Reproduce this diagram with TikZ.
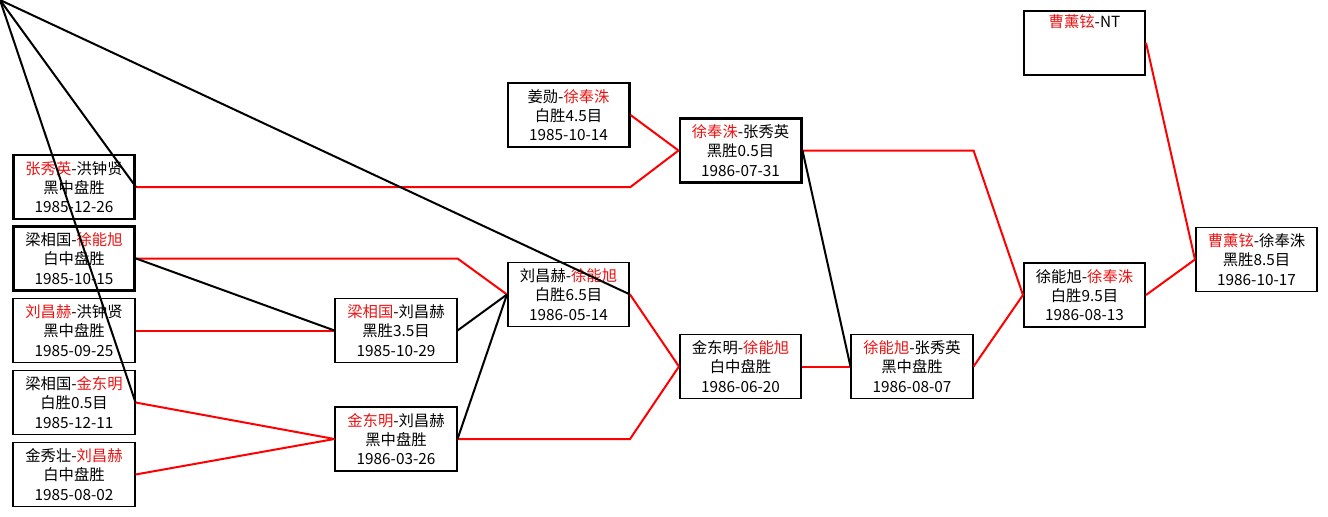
\documentclass[tikz,border=0pt]{standalone}
\usepackage{fontspec}
\setmainfont{Noto Sans CJK SC}
\usepackage{xcolor}
\usetikzlibrary{calc}
\definecolor{winred}{RGB}{235,20,20}
\newcommand{\wname}[1]{\textcolor{winred}{#1}}

\begin{document}
\begin{tikzpicture}[
    x=0.75pt, y=-0.75pt,
    game/.style={draw,line width=1.3pt,minimum width=91pt,minimum height=48pt,align=center,inner sep=2pt,font=\fontsize{11.5pt}{14.4pt}\selectfont},
    keygame/.style={game,line width=2pt},
    win/.style={red,line width=1.5pt},
    lose/.style={black,line width=1.5pt}
]
\useasboundingbox (0,0) rectangle (1328,517);
\fill[white] (0,0) rectangle (1328,517);
\coordinate (origin) at (0,0);

% first round
\node[keygame] (zhangHong) at (74,187) {\wname{张秀英}-洪钟贤\\黑中盘胜\\1985-12-26};
\node[keygame] (liangXu) at (74,258.5) {梁相国-\wname{徐能旭}\\白中盘胜\\1985-10-15};
\node[game] (liuHong) at (74,330.5) {\wname{刘昌赫}-洪钟贤\\黑中盘胜\\1985-09-25};
\node[game] (liangJin) at (74,402.5) {梁相国-\wname{金东明}\\白胜0.5目\\1985-12-11};
\node[game] (jinLiu) at (74,474.5) {金秀壮-\wname{刘昌赫}\\白中盘胜\\1985-08-02};

\node[game] (liangLiu) at (396,330.5) {\wname{梁相国}-刘昌赫\\黑胜3.5目\\1985-10-29};
\node[game] (jinmLiu) at (396,439) {\wname{金东明}-刘昌赫\\黑中盘胜\\1986-03-26};
\node[game] (liuXu) at (568.5,294.5) {刘昌赫-\wname{徐能旭}\\白胜6.5目\\1986-05-14};
\node[keygame] (jiangXu) at (568.5,115) {姜勋-\wname{徐奉洙}\\白胜4.5目\\1985-10-14};

\node[keygame] (xuZhang) at (740.5,150.5) {\wname{徐奉洙}-张秀英\\黑胜0.5目\\1986-07-31};
\node[game] (jinXu) at (740.5,366.5) {金东明-\wname{徐能旭}\\白中盘胜\\1986-06-20};
\node[game] (xunZhang) at (912,366.5) {\wname{徐能旭}-张秀英\\黑中盘胜\\1986-08-07};
\node[game] (xuXu) at (1084.5,295) {徐能旭-\wname{徐奉洙}\\白胜9.5目\\1986-08-13};
\node[game,anchor=north,align=center] (caoNT) at (1084.5,10) {\wname{曹薰铉}-NT\\\strut\\\strut};
\node[game] (final) at (1256.5,259.5) {\wname{曹薰铉}-徐奉洙\\黑胜8.5目\\1986-10-17};

% winners
\draw[win] (zhangHong.east) -- (zhangHong.east -| jiangXu.east) -- (xuZhang.west);
\draw[win] (jiangXu.east) -- (xuZhang.west);
\draw[win] (liangXu.east) -- (liangXu.east -| liangLiu.east) -- (liuXu.west);
\draw[win] (liuHong.east) -- (liangLiu.west);
\draw[win] (liangJin.east) -- (jinmLiu.west);
\draw[win] (jinLiu.east) -- (jinmLiu.west);
\draw[win] (jinmLiu.east) -- (jinmLiu.east -| liuXu.east) -- (jinXu.west);
\draw[win] (liuXu.east) -- (jinXu.west);
\draw[win] (jinXu.east) -- (xunZhang.west);
\draw[win] (xuZhang.east) -- (xuZhang.east -| xunZhang.east) -- (xuXu.west);
\draw[win] (xunZhang.east) -- (xuXu.west);
\draw[win] (xuXu.east) -- (final.west);
\draw[win] (caoNT.east) -- (final.west);

% losers
\draw[lose] (origin) -- (zhangHong.east);
\draw[lose] (origin) -- (liangJin.east);
\draw[lose] (origin) -- (liuXu.east);
\draw[lose] (liangXu.east) -- (liangLiu.west);
\draw[lose] (liangLiu.east) -- (liuXu.west);
\draw[lose] (jinmLiu.east) -- (liuXu.west);
\draw[lose] (xuZhang.east) -- (xunZhang.west);
\end{tikzpicture}
\end{document}
